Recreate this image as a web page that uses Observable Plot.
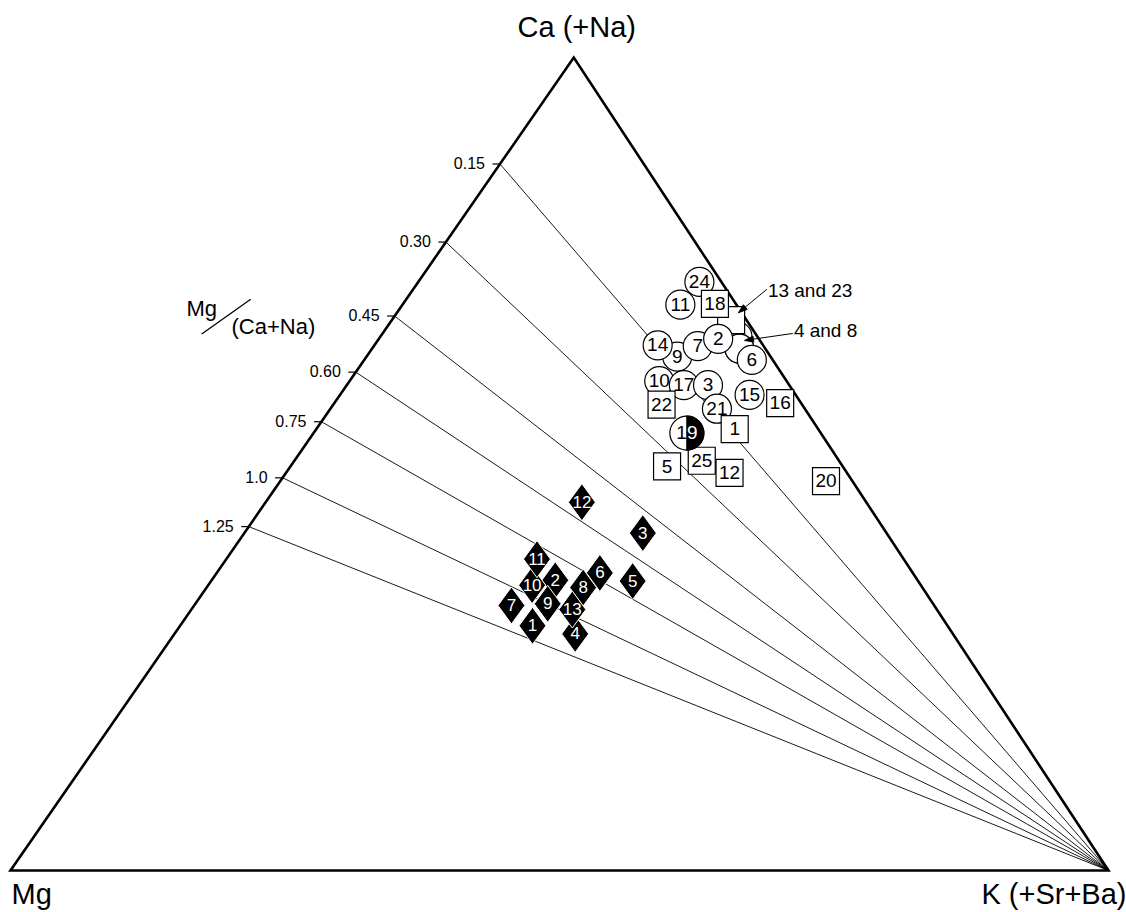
<!DOCTYPE html>
<html>
<head>
<meta charset="utf-8">
<script src="https://cdn.jsdelivr.net/npm/d3@7"></script>
<script src="https://cdn.jsdelivr.net/npm/@observablehq/plot@0.6"></script>
<style>
  html, body { margin: 0; padding: 0; background: #fff; }
  #chart svg { display: block; overflow: visible; }
</style>
</head>
<body>
<div id="chart"></div>
<script>
// ---------- DATA (ternary fractions: ca = Ca(+Na), k = K(+Sr+Ba), mg = 1 - ca - k) ----------
const vertexNames = ["Mg", "K (+Sr+Ba)", "Ca (+Na)"];
const vertexCa = [0, 0, 1];
const vertexK  = [0, 1, 0];

// Mg/(Ca+Na) guide lines: label and the Ca fraction where each meets the Mg–Ca edge
const ratioLabels = ["0.15", "0.30", "0.45", "0.60", "0.75", "1.0", "1.25"];
const ratioEdgeCa = [0.869, 0.773, 0.682, 0.613, 0.552, 0.483, 0.423];

// open circles (drawing order)
const circleIds = ["24", "11", "9", "14", "7", "2", "10", "17", "3", "21", "15", "6"];
const circleCa  = [0.724, 0.696, 0.632, 0.646, 0.645, 0.654, 0.602, 0.597, 0.597, 0.568, 0.585, 0.628];
const circleK   = [0.256, 0.253, 0.283, 0.258, 0.295, 0.309, 0.282, 0.307, 0.329, 0.352, 0.373, 0.353];

// open circles hidden under others
const hiddenCircleIds = ["23", "4", "8"];
const hiddenCircleCa  = [0.657, 0.642, 0.642];
const hiddenCircleK   = [0.325, 0.3345, 0.3345];

// open squares
const squareIds = ["18", "22", "16", "1", "5", "25", "12", "20"];
const squareCa  = [0.697, 0.573, 0.575, 0.543, 0.497, 0.504, 0.489, 0.479];
const squareK   = [0.284, 0.299, 0.406, 0.381, 0.343, 0.371, 0.404, 0.497];

// open square hidden under others
const hiddenSquareIds = ["13"];
const hiddenSquareCa  = [0.677];
const hiddenSquareK   = [0.309];

// half-filled circle
const halfIds = ["19"];
const halfCa  = [0.538];
const halfK   = [0.340];

// filled diamonds
const diamondIds = ["1", "2", "3", "4", "5", "6", "7", "8", "9", "10", "11", "12", "13"];
const diamondCa  = [0.301, 0.357, 0.415, 0.291, 0.356, 0.366, 0.326, 0.348, 0.328, 0.351, 0.383, 0.453, 0.321];
const diamondK   = [0.321, 0.313, 0.363, 0.365, 0.384, 0.349, 0.289, 0.343, 0.321, 0.295, 0.283, 0.288, 0.347];

// annotations (label and the composition the arrow points at)
const annoLabels = ["13 and 23", "4 and 8"];
const annoCa = [0.686, 0.652];
const annoK  = [0.311, 0.334];

// ---------- helpers ----------
const rows = (ids, ca, k) => ids.map((id, i) => ({id, ca: ca[i], k: k[i]}));
const APEX = 0.513; // horizontal position of the Ca apex along the base
const X = d => d.k + APEX * d.ca;
const Y = d => d.ca;

const vertices = rows(vertexNames, vertexCa, vertexK);
const outline = [vertices[0], vertices[1], vertices[2], vertices[0], vertices[1]];
const Kv = vertices[1];
const ratios = ratioLabels.map((label, i) => ({label, ca: ratioEdgeCa[i], k: 0}));
const circles = rows(circleIds, circleCa, circleK);
const hiddenCircles = rows(hiddenCircleIds, hiddenCircleCa, hiddenCircleK);
const squares = rows(squareIds, squareCa, squareK);
const hiddenSquares = rows(hiddenSquareIds, hiddenSquareCa, hiddenSquareK);
const halves = rows(halfIds, halfCa, halfK);
const diamonds = rows(diamondIds, diamondCa, diamondK);
const annos = rows(annoLabels, annoCa, annoK);

// ---------- custom symbols ----------
const squareSym = {draw(c) { c.rect(-13.5, -13.5, 27, 27); }};
const diamondSym = {draw(c) { c.moveTo(0, -18.5); c.lineTo(13.5, 0); c.lineTo(0, 18.5); c.lineTo(-13.5, 0); c.closePath(); }};
const rightHalfSym = {draw(c) { c.moveTo(0, -17); c.arc(0, 0, 17, -Math.PI / 2, Math.PI / 2); c.closePath(); }};
const tickSym = {draw(c) { c.moveTo(-7.5, 0); c.lineTo(0, 0); }};
function arrowSym(dx, dy) {
  return {draw(c) {
    const L = Math.hypot(dx, dy), ux = dx / L, uy = dy / L, h = 9, w = 3;
    c.moveTo(dx, dy); c.lineTo(ux * h, uy * h);
    c.moveTo(0, 0);
    c.lineTo(ux * h - uy * w, uy * h + ux * w);
    c.lineTo(ux * h + uy * w, uy * h - ux * w);
    c.closePath();
  }};
}

const FONT = "'Liberation Sans', Arial, Helvetica, sans-serif";

const plot = Plot.plot({
  width: 1126,
  height: 912,
  marginLeft: 10,
  marginRight: 18,
  marginTop: 57,
  marginBottom: 42,
  x: {domain: [0, 1], axis: null},
  y: {domain: [0, 1], axis: null},
  style: {fontFamily: FONT, background: "#fff", color: "#000", overflow: "visible"},
  marks: [
    // guide lines from the K apex
    Plot.link(ratios, {x1: () => X(Kv), y1: () => Y(Kv), x2: X, y2: Y, stroke: "#000", strokeWidth: 0.9}),
    // triangle
    Plot.line(outline, {x: X, y: Y, stroke: "#000", strokeWidth: 2.6, strokeLinejoin: "miter", strokeMiterlimit: 10}),
    // tick dashes and labels on the Mg–Ca edge
    Plot.dot(ratios, {x: X, y: Y, symbol: tickSym, stroke: "#000", fill: "none", strokeWidth: 1.2}),
    Plot.text(ratios, {x: X, y: Y, text: "label", textAnchor: "end", dx: -15, fontSize: 16, fill: "#000"}),
    // vertex labels
    Plot.text(vertices.slice(0, 1), {x: X, y: Y, text: "id", textAnchor: "start", dx: 1, dy: 24, fontSize: 29, fill: "#000"}),
    Plot.text(vertices.slice(1, 2), {x: X, y: Y, text: "id", textAnchor: "end", dx: 18, dy: 24, fontSize: 29, fill: "#000"}),
    Plot.text(vertices.slice(2, 3), {x: X, y: Y, text: "id", textAnchor: "middle", dx: 3, dy: -29.6, fontSize: 29, fill: "#000"}),
    // ratio title
    Plot.text(["Mg"], {frameAnchor: "top-left", lineAnchor: "middle", textAnchor: "start", dx: 176, dy: 251, fontSize: 22, fill: "#000"}),
    Plot.text(["(Ca+Na)"], {frameAnchor: "top-left", lineAnchor: "middle", textAnchor: "start", dx: 221, dy: 269, fontSize: 22, fill: "#000"}),
    // hidden markers
    Plot.dot(hiddenCircles, {x: X, y: Y, r: 14.5, fill: "#fff", stroke: "#000", strokeWidth: 1.2}),
    Plot.dot(hiddenSquares, {x: X, y: Y, symbol: squareSym, fill: "#fff", stroke: "#000", strokeWidth: 1.2}),
    // open circles
    Plot.dot(circles, {x: X, y: Y, r: 14.5, fill: "#fff", stroke: "#000", strokeWidth: 1.2}),
    Plot.text(circles, {x: X, y: Y, text: "id", fontSize: 19, fill: "#000"}),
    // open squares
    Plot.dot(squares, {x: X, y: Y, symbol: squareSym, fill: "#fff", stroke: "#000", strokeWidth: 1.2}),
    Plot.text(squares, {x: X, y: Y, text: "id", fontSize: 19, fill: "#000"}),
    // half-filled circle
    Plot.dot(halves, {x: X, y: Y, r: 17, fill: "#fff", stroke: "#000", strokeWidth: 1.2}),
    Plot.dot(halves, {x: X, y: Y, symbol: rightHalfSym, fill: "#000", stroke: "#000", strokeWidth: 1.2}),
    Plot.text(halves, {x: X, y: Y, text: d => d.id[0], dx: -5.3, fontSize: 19, fill: "#000"}),
    Plot.text(halves, {x: X, y: Y, text: d => d.id[1], dx: 5.3, fontSize: 19, fill: "#fff"}),
    // filled diamonds
    Plot.dot(diamonds, {x: X, y: Y, symbol: diamondSym, fill: "#000", stroke: "#fff", strokeWidth: 1}),
    Plot.text(diamonds, {x: X, y: Y, text: "id", fontSize: 17, fill: "#fff"}),
    // annotations
    Plot.dot(annos.slice(0, 1), {x: X, y: Y, symbol: arrowSym(28.5, -23.5), fill: "#000", stroke: "#000", strokeWidth: 1}),
    Plot.text(annos.slice(0, 1), {x: X, y: Y, text: "id", textAnchor: "start", dx: 29.5, dy: -21.5, fontSize: 19, fill: "#000"}),
    Plot.dot(annos.slice(1, 2), {x: X, y: Y, symbol: arrowSym(48.4, -7), fill: "#000", stroke: "#000", strokeWidth: 1}),
    Plot.text(annos.slice(1, 2), {x: X, y: Y, text: "id", textAnchor: "start", dx: 49.4, dy: -9.3, fontSize: 19, fill: "#000"})
  ]
});

// slash of the Mg/(Ca+Na) title
d3.select(plot).append("line")
  .attr("x1", 201.7).attr("y1", 334)
  .attr("x2", 250.7).attr("y2", 299.3)
  .attr("stroke", "#000").attr("stroke-width", 1.3);

document.getElementById("chart").appendChild(plot);
</script>
</body>
</html>
